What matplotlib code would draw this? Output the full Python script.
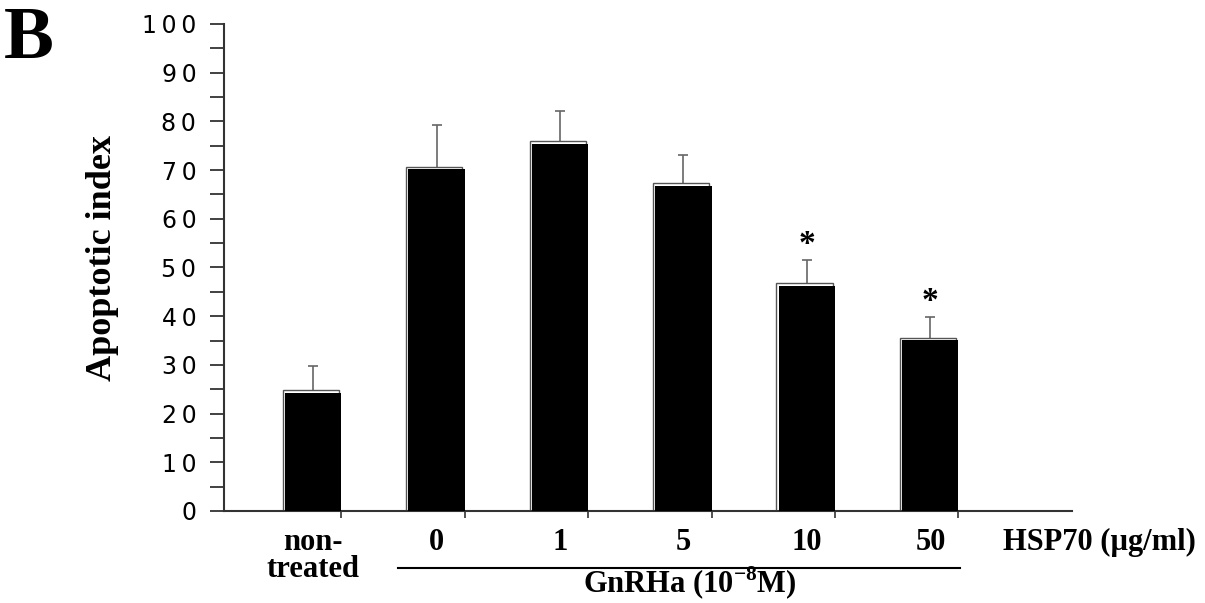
import matplotlib.pyplot as plt
import numpy as np

# datos
grupos = ['non-\ntreated', '0', '1', '5', '10', '50']
apoptosis = [24.3, 70.2, 75.4, 66.8, 46.3, 35.1]
error_sup = [5.4, 9.0, 6.8, 6.2, 5.2, 4.7]
significativo = [False, False, False, False, True, True]

yticks = list(range(0, 101, 10))

serif = ['Liberation Serif', 'DejaVu Serif']
plt.rcParams['mathtext.fontset'] = 'custom'
plt.rcParams['mathtext.rm'] = 'Liberation Serif:bold'
plt.rcParams['mathtext.bf'] = 'Liberation Serif:bold'

fig = plt.figure(figsize=(12.05, 6.03), dpi=100)
ax = fig.add_axes([0.186, 0.1526, 0.704, 0.8076])

x = np.arange(len(grupos))
ancho = 0.454

# marco gris desplazado (efecto sombra)
ax.bar(x - 0.02, np.array(apoptosis) + 0.5, width=ancho, facecolor='white',
       edgecolor='#555555', linewidth=1.0, zorder=2)
ax.bar(x, apoptosis, width=ancho, color='black', zorder=3)
ax.errorbar(x, apoptosis, yerr=[np.zeros(len(x)), error_sup], fmt='none',
            ecolor='#666666', elinewidth=1.2, capsize=3.5, capthick=1.2, zorder=1)

for i, s in enumerate(significativo):
    if s:
        ax.text(x[i], apoptosis[i] + error_sup[i] + 3.2, '*', ha='center', va='center',
                fontsize=24, fontweight='bold', family=serif)

ax.set_xlim(-0.72, 6.15)
ax.set_ylim(0, 100)
ax.spines['top'].set_visible(False)
ax.spines['right'].set_visible(False)
ax.spines['left'].set_color('#333333')
ax.spines['bottom'].set_color('#333333')
ax.spines['left'].set_linewidth(1.5)
ax.spines['bottom'].set_linewidth(1.5)

# etiquetas con separacion entre digitos como en la figura
ax.set_yticks(yticks)
ax.set_yticks(range(5, 100, 10), minor=True)
ax.set_yticklabels(['\u2009'.join(str(v)) for v in yticks], fontsize=17)
ax.tick_params(axis='y', which='both', length=10, width=1.3, color='#333333', pad=10)

ax.set_xticks(x + ancho / 2)
ax.set_xticklabels([])
ax.tick_params(axis='x', length=5, width=1.2, color='#333333')

for i, g in enumerate(grupos):
    ax.text(x[i], -0.035, g, transform=ax.get_xaxis_transform(), ha='center', va='top',
            fontsize=22, fontweight='bold', family=serif, linespacing=0.92)

ax.text(6.37, -0.035, 'HSP70 (µg/ml)', transform=ax.get_xaxis_transform(), ha='center', va='top',
        fontsize=22, fontweight='bold', family=serif)

ax.plot([0.69, 5.24], [-0.117, -0.117], transform=ax.get_xaxis_transform(),
        color='black', linewidth=1.5, clip_on=False)
ax.text(3.05, -0.168, 'GnRHa (10$^{-8}$M)', transform=ax.get_xaxis_transform(),
        ha='center', va='baseline', fontsize=22, fontweight='bold', family=serif)

ax.set_ylabel('Apoptotic index', fontsize=26, fontweight='bold', family=serif)
ax.yaxis.set_label_coords(-0.124, 0.52)

fig.text(0.003, 0.99, 'B', ha='left', va='top', fontsize=54, fontweight='bold', family=serif)

plt.savefig('out.png', dpi=100)
